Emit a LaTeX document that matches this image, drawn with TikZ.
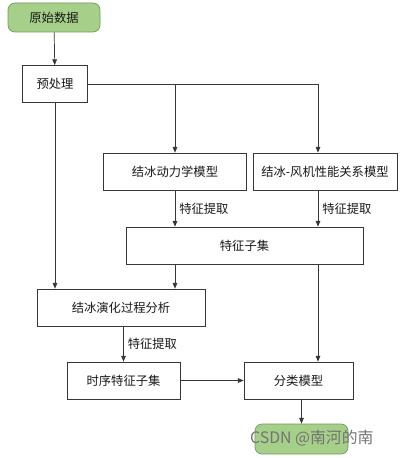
\documentclass[tikz,border=0pt]{standalone}
\usepackage{fontspec}
\setmainfont{Noto Sans CJK SC}
\usetikzlibrary{arrows.meta}
\definecolor{gruen}{RGB}{166,207,137}
\definecolor{gruenrand}{RGB}{115,155,90}
\definecolor{linie}{RGB}{55,55,55}
\tikzset{
  kasten/.style={draw=linie, fill=white, line width=0.6pt, minimum height=37*0.03cm, inner sep=0pt,
    font=\fontsize{10.5}{12}\selectfont, text=black!90},
  endkasten/.style={kasten, fill=gruen, draw=gruenrand, rounded corners=7*0.03cm, minimum height=30*0.03cm},
  pfeil/.style={-{Triangle[length=5pt,width=4pt]}, draw=linie, line width=0.6pt},
  beschr/.style={right, font=\fontsize{10.5}{12}\selectfont, text=black!90}
}
\begin{document}
\begin{tikzpicture}[x=0.03cm, y=-0.03cm]
    \useasboundingbox (0,0) rectangle (401,458);
    % Kaesten
    \node[endkasten, minimum width=92*0.03cm, minimum height=29*0.03cm] (start) at (54,17.5) {原始数据};
    \node[kasten, minimum width=65*0.03cm] (vorv) at (55,84) {预处理};
    \node[kasten, minimum width=143*0.03cm] (dyn) at (175,171.5) {结冰动力学模型};
    \node[kasten, minimum width=144*0.03cm] (wind) at (325,171.5) {结冰-风机性能关系模型};
    \node[kasten, minimum width=237*0.03cm] (fsub) at (244.5,245.5) {特征子集};
    \node[kasten, minimum width=168*0.03cm] (evol) at (121,307.5) {结冰演化过程分析};
    \node[kasten, minimum width=113*0.03cm] (tseq) at (123.5,380.5) {时序特征子集};
    \node[kasten, minimum width=109*0.03cm] (klass) at (298.5,380.5) {分类模型};
    \node[endkasten, minimum width=93*0.03cm] (ende) at (301.5,439) {};
    \coordinate (knick) at (318,84);
    % Verbindungen
    \draw[pfeil] (start) -- (vorv);
    \draw[linie, line width=0.6pt] (vorv.east) -- (knick);
    \draw[pfeil] (dyn.north |- vorv.east) -- (dyn.north);
    \draw[pfeil] (knick) -- (knick |- wind.north);
    \draw[pfeil] (dyn.south) -- (dyn.south |- fsub.north) node[midway, beschr] {特征提取};
    \draw[pfeil] (knick |- wind.south) -- (knick |- fsub.north) node[midway, beschr] {特征提取};
    \draw[pfeil] (vorv.south) -- (vorv.south |- evol.north);
    \draw[pfeil] (dyn.south |- fsub.south) -- (dyn.south |- evol.north);
    \draw[pfeil] (knick |- fsub.south) -- (knick |- klass.north);
    \draw[pfeil] (tseq.north |- evol.south) -- (tseq.north) node[midway, beschr] {特征提取};
    \draw[pfeil] (tseq.east) -- (klass.west);
    \draw[pfeil] (ende.north |- klass.south) -- (ende.north);
    % Wasserzeichen
    \node[font=\fontsize{13.5}{15}\selectfont, text=black!55, anchor=west, inner sep=0pt] (wz) at (250,438) {CSDN @南河的南};
\end{tikzpicture}
\end{document}
